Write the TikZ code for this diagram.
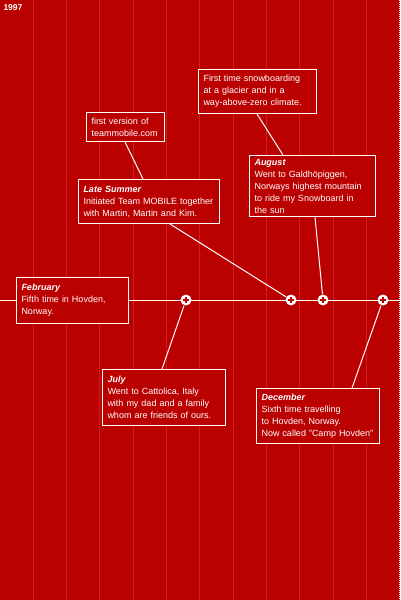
\documentclass[tikz,border=0pt]{standalone}
\usepackage{fontspec}
\setmainfont{Liberation Sans}
\usepackage{tikz}
\usetikzlibrary{calc}
\definecolor{bgred}{RGB}{187, 0, 0}
\definecolor{stripe}{RGB}{202, 34, 34}
\newcommand{\evfont}{\fontsize{9}{12}\selectfont\hyphenpenalty=10000\relax}

\begin{document}
\begin{tikzpicture}[x=1pt, y=-1pt, line width=1pt,
    event/.style={draw=white, fill=bgred, text=white, align=left,
      anchor=north west, inner xsep=5pt, inner ysep=3pt, font=\evfont},
    dot/.style={circle, fill=white, inner sep=0pt, minimum size=11pt}]

  % background and stripes
  \fill[bgred] (0, 0) rectangle (400, 600);
  \useasboundingbox (0, 0) rectangle (400, 600);
  \foreach \i in {1,...,11} {
    \draw[stripe] ({\i * 33.33}, 0) -- ({\i * 33.33}, 600);
  }
  \draw[white, dash pattern=on 1pt off 1pt] (399.5, 0) -- (399.5, 600);

  \node[anchor=north west, text=white, inner sep=0pt,
    font=\fontsize{8.5}{9}\selectfont\bfseries] (year) at (3, 4) {1997};

  % the time line
  \coordinate (tstart) at (0, 300);
  \coordinate (tend) at (400, 300);
  \draw[white] (tstart) -- (tend);

  % events
  \node[event, text width=102pt, minimum height=46pt] (feb) at (16, 277)
    {{\bfseries\itshape February}\\Fifth time in Hovden,\\Norway.};
  \node[event, text width=68pt, minimum height=29pt] (first) at (86, 112)
    {first version of\\teammobile.com};
  \node[event, text width=131pt, minimum height=44pt] (lates) at (78, 179)
    {{\bfseries\itshape Late Summer}\\Initiated Team MOBILE together\\with Martin, Martin and Kim.};
  \node[event, text width=108pt, minimum height=44pt] (snow) at (198, 69)
    {First time snowboarding\\at a glacier and in a\\way-above-zero climate.};
  \node[event, text width=116pt, minimum height=61pt] (aug) at (249, 155)
    {{\bfseries\itshape August}\\Went to Galdh\"opiggen,\\Norways highest mountain\\to ride my Snowboard in\\the sun};
  \node[event, text width=113pt, minimum height=56pt] (july) at (102, 369)
    {{\bfseries\itshape July}\\Went to Cattolica, Italy\\with my dad and a family\\whom are friends of ours.};
  \node[event, text width=113pt, minimum height=55pt] (dec) at (256, 388)
    {{\bfseries\itshape December}\\Sixth time travelling\\to Hovden, Norway.\\Now called "Camp Hovden"};

  % dots on the line
  \node[dot] (jul-d) at (186, 300) {};
  \node[dot] (lates-d) at (291, 300) {};
  \node[dot] (aug-d) at (323, 300) {};
  \node[dot] (dec-d) at (383, 300) {};
  \foreach \d in {jul-d, lates-d, aug-d, dec-d} {
    \draw[bgred, line width=1.3pt] ($(\d) + (-3, 0)$) -- ($(\d) + (3, 0)$);
    \draw[bgred, line width=1.3pt] ($(\d) + (0, -3)$) -- ($(\d) + (0, 3)$);
  }

  % connectors
  \draw[white] ($(first.south west) + (39, 0)$) -- ($(lates.north west) + (65, 0)$);
  \draw[white] ($(lates.south west) + (92, 0)$) -- (lates-d);
  \draw[white] ($(snow.south west) + (59, 0)$) -- ($(aug.north west) + (34, 0)$);
  \draw[white] ($(aug.south west) + (66, 0)$) -- (aug-d);
  \draw[white] ($(july.north west) + (60, 0)$) -- (jul-d);
  \draw[white] ($(dec.north west) + (96, 0)$) -- (dec-d);

\end{tikzpicture}
\end{document}
